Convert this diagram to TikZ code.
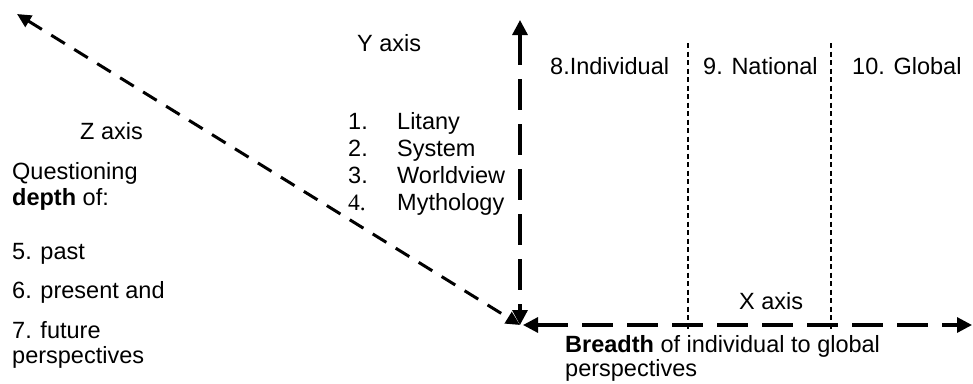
\documentclass[tikz,border=0pt]{standalone}
\usepackage{fontspec}
\setmainfont{Liberation Sans}
\newfontfamily\serifnum{Liberation Serif}
\usetikzlibrary{arrows.meta}
\begin{document}
\begin{tikzpicture}[x=1pt,y=-1pt,
  txt/.style={anchor=base west,inner sep=0pt,font=\fontsize{23.5}{26}\selectfont},
  axisline/.style={line width=3.2pt,dash pattern=on 31pt off 14pt,{Triangle[length=15pt,width=15pt]}-{Triangle[length=15pt,width=15pt]}},
  zline/.style={line width=3pt,dash pattern=on 16pt off 11pt,{Triangle[length=14pt,width=13pt]}-{Triangle[length=14pt,width=13pt]}},
  divider/.style={line width=1.2pt,dash pattern=on 5pt off 3.5pt}]
\useasboundingbox (0,0) rectangle (973,383);
% axis end points
\coordinate (O) at (520,325);
\coordinate (Ytop) at (520,20);
\coordinate (Xend) at (972,325);
\coordinate (Zend) at (17,14);
\coordinate (Ox) at (523,325);
\coordinate (d1t) at (688,43);
\coordinate (d1b) at (688,330);
\coordinate (d2t) at (831,43);
\coordinate (d2b) at (831,330);
% dividers
\draw[divider] (d1t) -- (d1b);
\draw[divider] (d2t) -- (d2b);
% axes
\draw[axisline] (Ytop) -- (O);
\draw[axisline] (Ox) -- (Xend);
\draw[zline] (Zend) -- (O);
% Y axis texts
\node[txt] (yax) at (357,51) {Y axis};
\node[txt] (n1) at (348,129) {1.};
\node[txt] (l1) at (397,129) {Litany};
\node[txt] (n2) at (348,156) {2.};
\node[txt] (l2) at (397,156) {System};
\node[txt] (n3) at (348,183) {3.};
\node[txt] (l3) at (397,183) {Worldview};
\node[txt] (n4) at (348,210) {\serifnum 4.};
\node[txt] (l4) at (397,210) {Mythology};
% column headers
\node[txt] (c8) at (550,74) {8.Individual};
\node[txt] (c9) at (703,74) {9. National};
\node[txt] (c10) at (852,74) {10. Global};
% X axis
\node[txt] (xax) at (739,309) {X axis};
\node[txt] (br1) at (565,352) {\textbf{Breadth} of individual to global};
\node[txt] (br2) at (565,376) {perspectives};
% Z axis
\node[txt] (zax) at (80,139) {Z axis};
\node[txt] (q1) at (12,179) {Questioning};
\node[txt] (q2) at (12,205) {\textbf{depth} of:};
\node[txt] (p5) at (12,259) {5. past};
\node[txt] (p6) at (12,298) {6. present and};
\node[txt] (p7) at (12,338) {7. future};
\node[txt] (p7b) at (12,363) {perspectives};
\end{tikzpicture}
\end{document}
